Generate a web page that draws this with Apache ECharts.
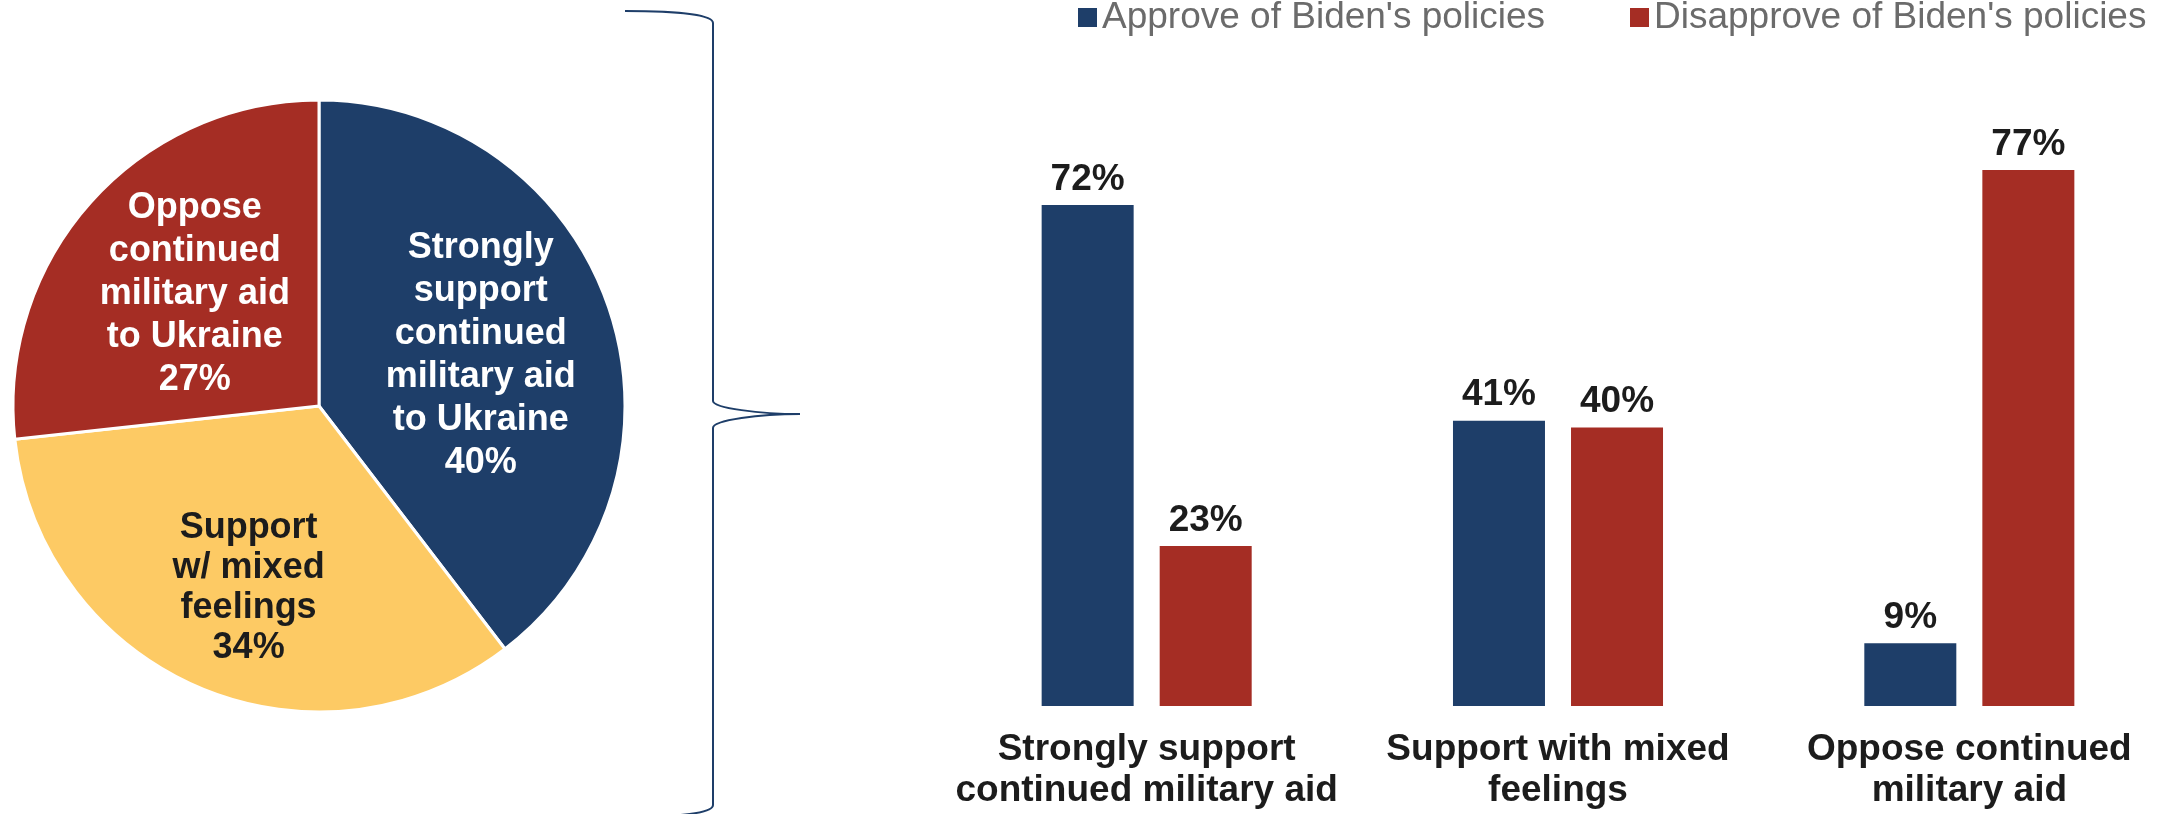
<!DOCTYPE html>
<html>
<head>
<meta charset="utf-8">
<script src="https://cdn.jsdelivr.net/npm/echarts@6/dist/echarts.min.js"></script>
<style>
  html, body { margin: 0; padding: 0; background: #ffffff; }
  #chart { width: 2178px; height: 814px; }
</style>
</head>
<body>
<div id="chart"></div>
<script>
// ---- Data ----
const pieLabels = [
  'Strongly\nsupport\ncontinued\nmilitary aid\nto Ukraine',
  'Support\nw/ mixed\nfeelings',
  'Oppose\ncontinued\nmilitary aid\nto Ukraine'
];
const pieValues = [40, 34, 27];

const barCategories = [
  'Strongly support\ncontinued military aid',
  'Support with mixed\nfeelings',
  'Oppose continued\nmilitary aid'
];
const seriesNames = ["Approve of Biden's policies", "Disapprove of Biden's policies"];
const approveValues = [72, 41, 9];
const disapproveValues = [23, 40, 77];

// ---- Styles ----
const BLUE = '#1e3e69';
const RED = '#a52d24';
const YELLOW = '#fdca64';
const DARK = '#1c1c1c';
const FONT = '"Liberation Sans", Arial, sans-serif';

const pieColors = [BLUE, YELLOW, RED];
const pieTextColors = ['#ffffff', DARK, '#ffffff'];
const pieLineHeights = [43, 40, 43];
const pieLabelShift = [[14, 0], [-9, 39], [-8, -8]];

const chart = echarts.init(document.getElementById('chart'), null, { renderer: 'canvas' });

const braceStyle = { stroke: BLUE, lineWidth: 2, fill: null };
const legendText = { fontFamily: FONT, fontSize: 37, color: '#6b6b6b' };

const option = {
  animation: false,
  backgroundColor: '#ffffff',
  textStyle: { fontFamily: FONT },
  legend: [
    {
      data: [seriesNames[0]],
      left: 1073, top: -6,
      itemWidth: 19, itemHeight: 19, itemGap: 0,
      icon: 'rect',
      selectedMode: false,
      textStyle: legendText
    },
    {
      data: [seriesNames[1]],
      left: 1625, top: -6,
      itemWidth: 19, itemHeight: 19, itemGap: 0,
      icon: 'rect',
      selectedMode: false,
      textStyle: legendText
    }
  ],
  grid: { left: 941, right: 3, top: 10, bottom: 108, containLabel: false },
  xAxis: {
    type: 'category',
    data: barCategories,
    axisLine: { show: false },
    axisTick: { show: false },
    axisLabel: {
      interval: 0,
      margin: 23,
      fontFamily: FONT,
      fontSize: 37,
      fontWeight: 'bold',
      color: DARK,
      lineHeight: 41
    }
  },
  yAxis: {
    type: 'value',
    min: 0, max: 100,
    show: false,
    splitLine: { show: false }
  },
  series: [
    {
      name: seriesNames[0],
      type: 'bar',
      data: approveValues,
      barWidth: 92,
      barGap: '28.3%',
      itemStyle: { color: BLUE },
      label: {
        show: true, position: 'top', distance: 7,
        formatter: '{c}%',
        fontFamily: FONT, fontSize: 37, fontWeight: 'bold', color: DARK
      },
      emphasis: { disabled: true }
    },
    {
      name: seriesNames[1],
      type: 'bar',
      data: disapproveValues,
      barWidth: 92,
      itemStyle: { color: RED },
      label: {
        show: true, position: 'top', distance: 7,
        formatter: '{c}%',
        fontFamily: FONT, fontSize: 37, fontWeight: 'bold', color: DARK
      },
      emphasis: { disabled: true }
    },
    {
      type: 'pie',
      center: [319, 406],
      radius: [0, 306],
      startAngle: 90,
      clockwise: true,
      avoidLabelOverlap: false,
      silent: true,
      emphasis: { disabled: true },
      labelLine: { show: false },
      itemStyle: { borderColor: '#ffffff', borderWidth: 3 },
      label: {
        show: true,
        position: 'inside',
        fontFamily: FONT,
        fontSize: 36,
        fontWeight: 'bold',
        lineHeight: 43,
        align: 'center',
        formatter: function (p) { return p.name + '\n' + p.value + '%'; }
      },
      labelLayout: function (params) {
        const s = pieLabelShift[params.dataIndex];
        return { dx: s[0], dy: s[1] };
      },
      data: pieLabels.map(function (name, i) {
        return {
          name: name,
          value: pieValues[i],
          itemStyle: { color: pieColors[i] },
          label: { color: pieTextColors[i], lineHeight: pieLineHeights[i] }
        };
      })
    }
  ],
  graphic: [
    { type: 'bezierCurve', silent: true,
      shape: { x1: 625, y1: 11, cpx1: 680, cpy1: 11, cpx2: 713, cpy2: 15, x2: 713, y2: 23 },
      style: braceStyle },
    { type: 'line', silent: true,
      shape: { x1: 713, y1: 23, x2: 713, y2: 401 }, style: braceStyle },
    { type: 'bezierCurve', silent: true,
      shape: { x1: 713, y1: 401, cpx1: 713, cpy1: 408, cpx2: 760, cpy2: 414, x2: 800, y2: 414 },
      style: braceStyle },
    { type: 'bezierCurve', silent: true,
      shape: { x1: 800, y1: 414, cpx1: 760, cpy1: 414, cpx2: 713, cpy2: 420, x2: 713, y2: 428 },
      style: braceStyle },
    { type: 'line', silent: true,
      shape: { x1: 713, y1: 428, x2: 713, y2: 805 }, style: braceStyle },
    { type: 'bezierCurve', silent: true,
      shape: { x1: 713, y1: 805, cpx1: 713, cpy1: 813, cpx2: 680, cpy2: 817, x2: 625, y2: 817 },
      style: braceStyle }
  ]
};

chart.setOption(option);
</script>
</body>
</html>
